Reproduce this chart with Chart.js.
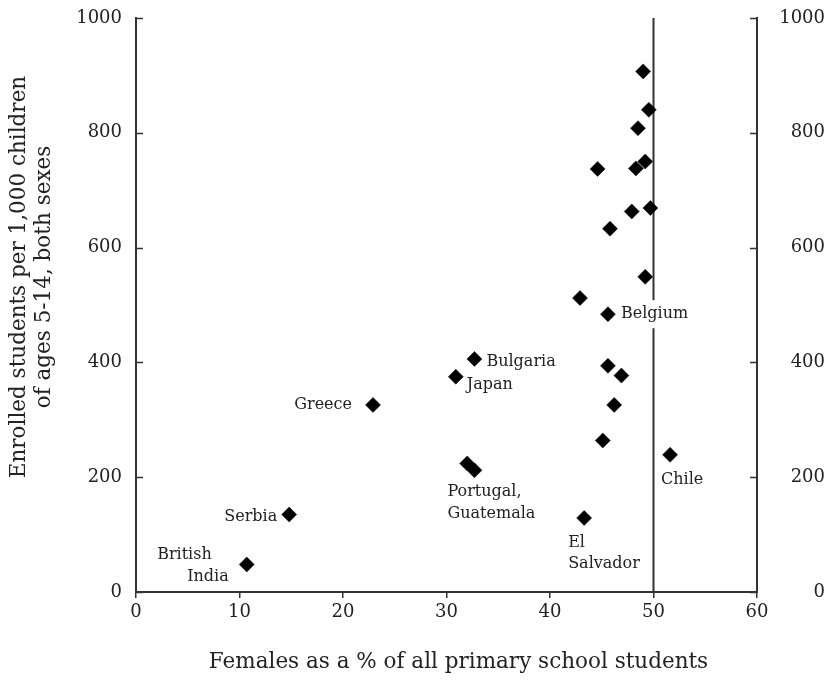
<!DOCTYPE html>
<html>
<head>
<meta charset="utf-8">
<script src="https://cdn.jsdelivr.net/npm/chart.js@4/dist/chart.umd.min.js"></script>
<style>
  html, body { margin: 0; padding: 0; background: #fff; }
  #chart { display: block; }
</style>
</head>
<body>
<canvas id="chart" width="825" height="683"></canvas>
<script>
/* global Chart */

// females as % of primary pupils, enrolment per 1,000 children aged 5-14
const femalePct = [49.0, 49.55, 48.5, 44.6, 48.3, 49.2, 47.9, 49.7, 45.8, 49.2, 42.9, 45.6,
  45.6, 46.9, 46.2, 45.1, 51.6, 43.3, 32.7, 30.9, 22.9, 32.0, 32.7, 14.8, 10.7];
const enrolled = [907, 840, 808, 737, 738, 750, 663, 669, 633, 549, 512, 484,
  394, 377, 326, 264, 239, 129, 406, 375, 326, 224, 212, 135, 48];
const countries = ['', '', '', '', '', '', '', '', '', '', '', 'Belgium',
  '', '', '', '', 'Chile', 'El Salvador', 'Bulgaria', 'Japan', 'Greece', '', 'Guatemala', 'Serbia', 'British India'];

const xTicks = [0, 10, 20, 30, 40, 50, 60];
const yTicks = [0, 200, 400, 600, 800, 1000];
const parityLine = [50, 50];
const parityRange = [0, 1000];

const xTitle = 'Females as a % of all primary school students';
const yTitle = ['Enrolled students per 1,000 children', 'of ages 5-14, both sexes'];

const SERIF = '"DejaVu Serif", "Liberation Serif", serif';
const INK = '#222';
const AXIS = '#333';

// where each country's name sits relative to its marker
const labelSpots = {
  'Belgium': [{text: 'Belgium', align: 'left', dx: 13, dy: 0, box: true}],
  'Chile': [{text: 'Chile', align: 'left', dx: -9, dy: 25}],
  'El Salvador': [{text: 'El', align: 'left', dx: -16, dy: 25}, {text: 'Salvador', align: 'left', dx: -16, dy: 46}],
  'Bulgaria': [{text: 'Bulgaria', align: 'left', dx: 12, dy: 3}],
  'Japan': [{text: 'Japan', align: 'left', dx: 11, dy: 8}],
  'Greece': [{text: 'Greece', align: 'right', dx: -21, dy: 0}],
  'Guatemala': [{text: 'Portugal,', align: 'left', dx: -27, dy: 22}, {text: 'Guatemala', align: 'left', dx: -27, dy: 44}],
  'Serbia': [{text: 'Serbia', align: 'right', dx: -12, dy: 2}],
  'British India': [{text: 'British', align: 'right', dx: -35, dy: -10}, {text: 'India', align: 'right', dx: -18, dy: 12}]
};

const points = femalePct.map((x, i) => ({x, y: enrolled[i]}));

const countryLabels = {
  id: 'countryLabels',
  afterDatasetsDraw(chart) {
    const {ctx} = chart;
    const meta = chart.getDatasetMeta(1);
    ctx.save();
    ctx.font = '16px ' + SERIF;
    ctx.textBaseline = 'middle';
    countries.forEach((name, i) => {
      if (!labelSpots[name]) return;
      const pt = meta.data[i];
      labelSpots[name].forEach(l => {
        const tx = pt.x + l.dx;
        const ty = pt.y + l.dy;
        ctx.textAlign = l.align;
        if (l.box) {
          const w = ctx.measureText(l.text).width;
          ctx.fillStyle = '#fff';
          ctx.fillRect(l.align === 'left' ? tx - 2 : tx - w - 2, ty - 14, w + 4, 28);
        }
        ctx.fillStyle = INK;
        ctx.fillText(l.text, tx, ty);
      });
    });
    ctx.restore();
  }
};

// inward tick marks on both value axes, plus the two axis titles
const axisDecor = {
  id: 'axisDecor',
  afterDraw(chart) {
    const {ctx, chartArea} = chart;
    const y = chart.scales.y;
    ctx.save();
    ctx.strokeStyle = AXIS;
    ctx.lineWidth = 1.5;
    yTicks.forEach(v => {
      const py = Math.round(y.getPixelForValue(v)) + 0.5;
      ctx.beginPath();
      ctx.moveTo(chartArea.left, py);
      ctx.lineTo(chartArea.left + 7, py);
      ctx.moveTo(chartArea.right, py);
      ctx.lineTo(chartArea.right - 7, py);
      ctx.stroke();
    });

    ctx.fillStyle = INK;
    ctx.font = '21.5px ' + SERIF;
    ctx.textAlign = 'center';
    ctx.textBaseline = 'middle';
    ctx.fillText(xTitle, (chartArea.left + chartArea.right) / 2 + 12, chartArea.bottom + 70);

    ctx.translate(0, (chartArea.top + chartArea.bottom) / 2 - 28);
    ctx.rotate(-Math.PI / 2);
    ctx.fillText(yTitle[0], 0, 19);
    ctx.fillText(yTitle[1], 0, 44);
    ctx.restore();
  }
};

const plainNumber = v => String(v);

const valueAxis = (position, padding, width, crossAlign) => ({
  position,
  min: 0,
  max: 1000,
  afterBuildTicks: s => { s.ticks = yTicks.map(value => ({value})); },
  afterFit: s => { s.width = width; s.paddingTop = 0; s.paddingBottom = 0; },
  grid: {display: false},
  border: {display: true, color: AXIS, width: 2},
  ticks: {color: INK, font: {family: SERIF, size: 18}, padding, crossAlign, callback: plainNumber}
});

new Chart(document.getElementById('chart'), {
  type: 'scatter',
  data: {
    datasets: [
      {
        type: 'line',
        data: parityLine.map((x, i) => ({x, y: parityRange[i]})),
        borderColor: AXIS,
        borderWidth: 2,
        pointRadius: 0,
        order: 2
      },
      {
        data: points,
        pointStyle: 'rectRot',
        pointRadius: 7.5,
        backgroundColor: '#000',
        borderColor: '#000',
        borderWidth: 0.5,
        order: 1
      }
    ]
  },
  options: {
    responsive: false,
    animation: false,
    layout: {padding: {top: 18, left: 0, right: 0, bottom: 0}},
    plugins: {legend: {display: false}, tooltip: {enabled: false}},
    scales: {
      x: {
        type: 'linear',
        min: 0,
        max: 60,
        afterBuildTicks: s => { s.ticks = xTicks.map(value => ({value})); },
        afterFit: s => { s.height = 91; s.paddingLeft = 0; s.paddingRight = 0; },
        grid: {display: true, drawOnChartArea: false, tickLength: 6, color: AXIS, lineWidth: 1.5},
        border: {display: true, color: AXIS, width: 2},
        ticks: {color: INK, font: {family: SERIF, size: 18}, padding: 4, callback: plainNumber}
      },
      y: valueAxis('left', 6, 136, 'near'),
      y2: valueAxis('right', 5, 68, 'far')
    }
  },
  plugins: [countryLabels, axisDecor]
});
</script>
</body>
</html>
